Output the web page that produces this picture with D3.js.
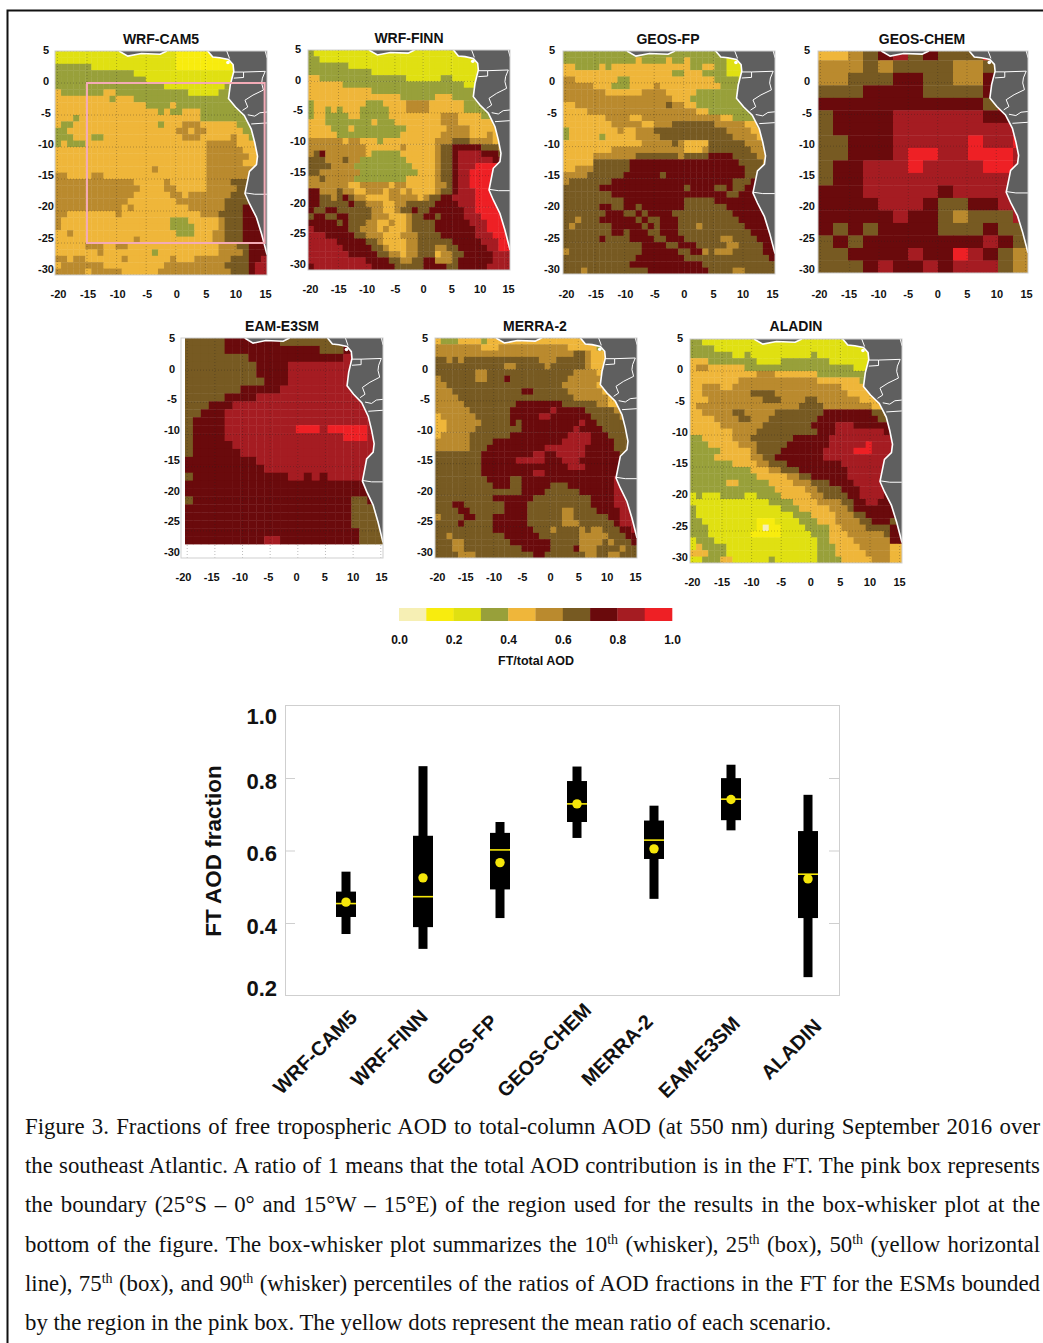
<!DOCTYPE html>
<html>
<head>
<meta charset="utf-8">
<script src="https://cdnjs.cloudflare.com/ajax/libs/d3/7.8.5/d3.min.js"></script>
<style>
  html, body { margin: 0; padding: 0; background: #fff; }
  svg { display: block; }
  text { font-family: "Liberation Sans", Arial, sans-serif; }
</style>
</head>
<body>
<div id="chart"></div>
<script>
// bins of FT/total AOD: digit n in the grids below = bin n (0.0-0.1 ... 0.9-1.0)
var binEdges = [0, 0.1, 0.2, 0.3, 0.4, 0.5, 0.6, 0.7, 0.8, 0.9, 1.0];
var binColors = ["#f6efb4", "#f8ec0e", "#e0e012", "#98a03a", "#efb63a", "#ba8a2e", "#775a22", "#6a0a0c", "#a51c22", "#ee2025"];
var legendTicks = [0, 0.2, 0.4, 0.6, 0.8, 1.0];

// grids, north to south, west to east
var wrfCam5 = [
"22222 22222 22222 22222 11111 11111 22222",
"22222 22222 22222 22222 11111 11111 11222",
"33333 32222 22222 22222 11111 11111 11222",
"33333 33333 33322 22222 22222 22222 22222",
"33333 33333 33333 22222 22222 22221 11222",
"33333 33333 33333 33322 22222 22233 33333",
"43333 33344 33333 33333 33222 22333 33333",
"44444 44443 44433 33333 33333 33333 33333",
"44444 44444 44444 33334 33333 33333 33333",
"44444 44444 44444 44343 34443 33333 33333",
"44434 44444 44444 44444 44443 33333 33333",
"43344 44444 44444 44344 45554 44444 33333",
"33444 44444 44444 44444 55455 44444 43333",
"33344 43344 44444 44444 45554 44445 44333",
"34333 44444 44444 44444 44444 55555 44433",
"44444 44444 44444 44444 44444 55555 54444",
"44444 44444 44444 44444 44444 55555 55444",
"44444 44444 44444 44444 44444 55555 54444",
"44444 44444 44444 45444 44444 55555 55544",
"55444 45544 44444 44444 44444 55555 55444",
"55555 55555 55544 44454 44444 55556 66777",
"55555 55555 55554 44455 44444 55555 66777",
"55555 55555 55544 44445 54555 55556 66777",
"55555 55555 55444 44444 55555 55566 66777",
"55555 55555 54544 44444 44555 55566 67777",
"55444 44444 54444 44444 44445 55666 67777",
"54444 44444 44444 44443 33444 44566 67777",
"54444 44444 44444 44443 33344 44566 67778",
"44544 44444 44444 44444 33344 45566 67778",
"44444 44444 44454 44444 44444 45566 67777",
"44444 55544 55444 44444 44444 44555 66777",
"44444 44544 44444 43444 44444 44555 56777",
"55455 44444 45444 44445 44455 55556 66778",
"45555 55544 44444 44455 55555 55566 66788",
"55555 45555 54444 44555 55555 55556 66788"
];
var wrfFinn = [
"32222 22222 22222 22222 22222 22222 22222",
"33222 22222 22222 22222 22222 22222 22222",
"33333 33222 22222 22222 22222 22222 22222",
"33333 33333 32222 22222 22222 22222 22222",
"44333 33333 33333 33222 22233 22222 22222",
"44444 43333 33333 33333 33333 33222 22222",
"44444 44444 43333 33333 33333 33332 22222",
"44444 44444 44444 43333 33444 33333 22222",
"34444 44444 33344 44555 54444 44333 32222",
"34434 34443 33334 44555 54444 44333 33222",
"34433 33443 33334 44444 44455 54444 33322",
"44433 33333 34333 44444 44455 54444 44333",
"44443 33433 33333 33444 44445 55544 44433",
"44444 33333 33333 34444 44455 55544 45444",
"55555 54554 44344 44444 44555 66655 55444",
"55555 55555 44444 45444 44566 77777 66655",
"56755 55555 43333 34444 44566 78888 77766",
"66655 56553 33333 33444 44566 78888 88777",
"66665 55533 33333 33344 44566 78889 99988",
"66555 55553 33333 33334 44566 78899 99999",
"55655 55533 33333 33444 44566 78899 99999",
"55555 55445 55554 55444 44556 78899 99999",
"77555 65544 55545 54544 44566 78889 99999",
"77665 67655 44445 55554 56677 88889 99999",
"77666 66766 55544 55666 66777 78889 99999",
"76677 66666 65544 56676 67777 77889 99999",
"67766 77666 65554 44566 77677 77888 99999",
"77777 67666 55445 44566 66777 77788 89999",
"87777 77665 55454 44566 66777 77778 89999",
"88877 77766 55544 45556 66677 77778 88999",
"88888 77777 66544 44556 66666 77777 88899",
"88888 87777 76654 44556 66556 67777 78899",
"88888 88777 77665 54556 66455 66777 77888",
"88888 88888 77776 65566 77555 67777 77888",
"78888 88888 87777 66666 77776 67777 78888"
];
var geosFp = [
"33333 33333 33333 33333 33333 33222 22222",
"33333 33333 33433 33433 43333 33222 22222",
"44333 34344 44444 44444 43344 33222 22222",
"44444 44444 44444 44433 44433 33222 22222",
"55444 44443 34444 44444 44444 33332 22222",
"55555 44433 34444 54444 44444 43333 22222",
"55555 55444 44455 55444 44333 33332 22222",
"55555 55555 55555 55544 43333 33333 22222",
"44555 55555 55555 55655 44333 33333 32222",
"44445 55555 55555 55555 55443 33333 33222",
"44444 44555 54455 55555 55555 54433 33322",
"44444 44455 55544 55566 66666 55555 44332",
"34444 44445 44555 66666 66666 66555 54443",
"34444 43444 44555 56666 66666 66655 55444",
"44444 44444 44455 55565 44446 66666 55544",
"44444 44455 55555 55555 44456 66666 65554",
"44444 55555 55666 66665 66667 77766 66554",
"44444 66666 67777 77777 77777 77776 66655",
"44555 66666 67777 77777 77777 77777 66655",
"55556 66666 77777 76777 77777 77777 66654",
"56666 66677 77777 77777 77777 77766 67766",
"66666 67777 77777 77777 67777 66766 77777",
"66666 66677 77777 77777 77777 77667 77777",
"66666 66666 77777 77777 66666 77777 77777",
"66666 67766 77677 77777 66666 66777 77777",
"66666 66777 66767 77766 66666 66677 77777",
"66566 67777 77676 67776 66666 66667 77777",
"65666 66677 77767 67776 66566 66666 77777",
"66666 66677 67776 67776 66666 66666 67777",
"66666 67666 67777 66777 66666 65566 66777",
"66666 66666 66677 77667 77666 66556 66677",
"56666 66666 66677 77776 67756 55566 66677",
"66666 66666 66777 77777 66666 66666 66667",
"66666 66666 67777 77777 77766 66666 66666",
"66656 66666 66667 77777 77776 66655 66666"
];
var geosChem = [
"44567867666 999",
"55565666655 666",
"55666776655 777",
"66677776666 777",
"77777777777 699",
"67777888888 777",
"67777888888 888",
"66777888889 889",
"66777899889 998",
"67788898888 998",
"67788888888 888",
"77788888788 888",
"77778887667 788",
"77777877656 668",
"76767777666 766",
"67677777777 876",
"66777787798 765",
"66678778788 865"
];
var eamE3sm = [
"66666 77777 77666 66666 66666",
"66666 77777 77777 77666 77777",
"66666 66677 77777 77777 88888",
"66666 66667 77788 88888 88888",
"66666 66667 77788 88888 88888",
"66666 66666 77788 88888 88888",
"66666 66777 77888 88888 88888",
"66666 77778 88888 88888 88888",
"66677 78888 88888 88888 88888",
"66777 88888 88888 88888 88888",
"67777 88888 88888 88888 88888",
"67777 88888 88889 99899 99988",
"67777 88888 88888 88888 99988",
"67777 78888 88888 88888 88888",
"67777 77888 88888 88888 88888",
"77777 77778 88888 88888 88888",
"77777 77777 88888 88888 88888",
"67777 77777 77788 78788 88888",
"77777 77777 77777 77777 77777",
"77777 77777 77777 77777 77777",
"67777 77777 77777 77777 76677",
"77777 77777 77777 77777 76666",
"77777 77777 77777 77777 76666",
"77777 77777 77777 77777 76666",
"77777 77777 77777 77777 77666",
"77777 77777 88777 77777 77666"
];
var merra2 = [
"43334 44434 44444 44444 44444 43333 33333",
"55555 55544 45555 55555 55544 44433 33333",
"55555 55555 55555 55555 55556 65444 33333",
"66565 66666 66666 66655 56666 65444 44333",
"66666 66666 66556 66665 66666 65444 44433",
"66666 66556 66666 66666 66665 55544 44443",
"56666 66556 66766 66666 66655 55554 44443",
"55666 66666 66666 66666 66555 55544 44444",
"55566 66666 66666 77666 66655 55554 44443",
"55556 66666 66666 66666 66665 55555 44444",
"55555 66666 66667 77777 77666 66655 44444",
"55555 56666 66677 77777 87777 76666 65444",
"45555 55666 66677 77788 77777 77666 66555",
"44555 55566 66676 77777 77777 87766 66655",
"44555 55666 66666 77777 77778 77776 66655",
"45555 56666 66677 77777 77788 88777 66665",
"55555 56666 77777 77777 77888 88777 76666",
"55555 56667 77777 77778 88888 87777 76665",
"66666 66677 77777 77887 78888 87777 77665",
"66666 66677 77778 88887 77888 77777 77766",
"66666 66677 77777 77777 77788 87777 77776",
"66666 66677 77777 77887 77777 77777 77777",
"66666 66667 77766 77777 77777 77777 78877",
"66666 66666 77766 77777 66677 77777 78887",
"66666 66666 66666 77776 66666 77777 78888",
"66666 66666 77777 77666 66666 66777 78888",
"66677 66666 66777 76666 66666 66777 78888",
"66667 76666 66777 76666 66556 66677 77888",
"56666 77666 77777 76666 66556 66666 77888",
"66667 66666 77777 76666 66555 66666 67888",
"66666 66666 77777 77666 56666 56556 66778",
"66566 66666 66777 77766 66666 55555 66677",
"66655 66666 66677 77777 66666 55556 56667",
"66655 66666 66666 77777 66667 55566 66566",
"66665 55666 66666 66776 66666 65566 55666"
];
var aladin = [
"33222 22222 22222 22222 22222 22222 22222",
"33332 22222 22222 22222 22222 22222 22222",
"33333 33223 22222 22222 32222 22222 22222",
"44433 33333 32222 33333 33322 22222 22222",
"45544 44443 33333 33333 33333 33222 22222",
"44444 44444 45554 44444 43333 33333 32222",
"44444 44455 55555 55555 54444 44433 33222",
"44555 44555 55555 55555 55555 44444 33222",
"44555 55555 66665 55555 55555 54444 43333",
"44455 55555 55666 55556 65555 55544 44433",
"45555 55555 55555 55566 66555 55555 44443",
"44555 55665 55556 66666 66777 77777 66544",
"44445 55566 55566 66666 67777 77777 76654",
"44444 55555 55666 66666 77778 88777 77766",
"44444 44555 56666 66666 67778 88888 88777",
"33444 44555 66666 66777 77788 88888 88888",
"33344 44455 56666 67777 77788 88889 88888",
"33333 44444 56666 77777 77888 88999 88888",
"33334 44444 55667 77777 77888 88888 88888",
"33333 33444 45566 67777 77777 88888 88877",
"33333 33333 44455 66677 77777 78888 88777",
"33333 33333 34444 45566 77777 78888 88777",
"33333 34433 33344 44555 66677 77888 88777",
"33333 33333 33334 44445 56666 77788 88777",
"23222 33332 23333 44444 55666 67788 88777",
"22222 22222 22233 33444 45555 66778 87777",
"32222 22222 22222 33344 44455 56777 77777",
"32222 22222 22222 22333 44445 55667 77776",
"33222 22222 21112 22233 34445 55566 77766",
"33322 22222 21011 22223 33344 55556 66677",
"33322 22222 11111 22222 33344 45555 55677",
"23332 22222 22222 22222 23344 44555 55577",
"24333 32222 22222 22222 23334 44455 55544",
"44433 32222 22222 22222 23334 44445 55544",
"22333 44222 22232 22222 23333 44444 55544"
];

var lonTicks = [-20, -15, -10, -5, 0, 5, 10, 15];
var latTicks = [5, 0, -5, -10, -15, -20, -25, -30];

// coast and borders, [lon, lat]
var coastAfrica = [[5.37,5],[6.25,4.05],[7.43,3.94],[8.9,3.67],[9.67,2.88],[9.79,1.82],[9.2,-0.3],[8.9,-2.42],[10.08,-3.75],[11.56,-5.07],[12.74,-7.2],[13.33,-9.3],[13.8,-11.44],[13.62,-12.76],[12.44,-13.82],[12.15,-15.15],[11.68,-17.27],[12.44,-18.86],[13.62,-21],[14.5,-23.63],[15.1,-25.75],[15.4,-26.8]];
var coastGuinea = [[-9.6,5],[-8.1,4.2],[-5.8,4.6],[-2.65,4.5],[-1.5,5]];
var borders = [
  [[9.79,1.71],[11.44,1.71],[11.44,0.86],[9.79,0.76]],
  [[11.44,1.71],[15.1,1.82],[14.62,0.76],[14.5,-0.04],[14.8,-1.1],[13.03,-1.89],[11.68,-2.69],[12.15,-3.75],[11.26,-4.28]],
  [[12.15,-4.97],[13.33,-5.18],[14.2,-4.65],[15.4,-4.54]],
  [[12.74,-6.4],[15.4,-6.24]],
  [[11.68,-17.16],[13.33,-17.38],[15.4,-17.38]],
  [[8.6,5],[9.08,3.83]],
  [[15.1,5],[15.4,3.94]]
];
var bioko = [8.8, 3.2];

// box-whisker plot
var models = ["WRF-CAM5", "WRF-FINN", "GEOS-FP", "GEOS-CHEM", "MERRA-2", "EAM-E3SM", "ALADIN"];
var p10 = [0.371, 0.330, 0.415, 0.636, 0.468, 0.657, 0.252];
var p25 = [0.418, 0.390, 0.494, 0.680, 0.578, 0.685, 0.415];
var p50 = [0.455, 0.474, 0.603, 0.730, 0.630, 0.743, 0.536];
var p75 = [0.488, 0.642, 0.650, 0.793, 0.684, 0.801, 0.655];
var p90 = [0.543, 0.834, 0.680, 0.833, 0.725, 0.838, 0.755];
var means = [0.459, 0.526, 0.568, 0.730, 0.606, 0.742, 0.523];
var fractionTicks = [0.2, 0.4, 0.6, 0.8, 1.0];

var captionLines = [
  "Figure 3. Fractions of free tropospheric AOD to total-column AOD (at 550 nm) during September 2016 over",
  "the southeast Atlantic. A ratio of 1 means that the total AOD contribution is in the FT. The pink box represents",
  "the boundary (25°S – 0° and 15°W – 15°E) of the region used for the results in the box-whisker plot at the",
  "bottom of the figure. The box-whisker plot summarizes the 10^th (whisker), 25^th (box), 50^th (yellow horizontal",
  "line), 75^th (box), and 90^th (whisker) percentiles of the ratios of AOD fractions in the FT for the ESMs bounded",
  "by the region in the pink box. The yellow dots represent the mean ratio of each scenario."
];

// map layout in pixels
var panels = [
  {name: "WRF-CAM5", grid: wrfCam5, x0: 55, x1: 267, y0: 51, y1: 275, geoY1: 275, gridY0: 51, gridY1: 275, titleX: 161, titleY: 44,
   tickX0: 58, tickX1: 265, tickY: 301, labelX: 46, labelY0: 50, labelY1: 269, pink: true},
  {name: "WRF-FINN", grid: wrfFinn, x0: 308, x1: 510, y0: 50, y1: 270, geoY1: 270, gridY0: 50, gridY1: 270, titleX: 409, titleY: 43,
   tickX0: 310, tickX1: 508, tickY: 296, labelX: 298, labelY0: 49, labelY1: 264},
  {name: "GEOS-FP", grid: geosFp, x0: 563, x1: 775, y0: 51, y1: 274, geoY1: 274, gridY0: 51, gridY1: 274, titleX: 668, titleY: 44,
   tickX0: 566, tickX1: 772, tickY: 301, labelX: 552, labelY0: 50, labelY1: 269},
  {name: "GEOS-CHEM", grid: geosChem, x0: 818, x1: 1028, y0: 51, y1: 273, geoY1: 273, gridY0: 47.8, gridY1: 273, titleX: 922, titleY: 44,
   tickX0: 819, tickX1: 1026, tickY: 301, labelX: 807, labelY0: 50, labelY1: 269},
  {name: "EAM-E3SM", grid: eamE3sm, x0: 185, x1: 383, y0: 338, y1: 558, geoY1: 563, gridY0: 338, gridY1: 544, frameX0: 181, titleX: 282, titleY: 331,
   tickX0: 183, tickX1: 381, tickY: 584, labelX: 172, labelY0: 338, labelY1: 552},
  {name: "MERRA-2", grid: merra2, x0: 435, x1: 637, y0: 338, y1: 558, geoY1: 558, gridY0: 338, gridY1: 558, titleX: 535, titleY: 331,
   tickX0: 437, tickX1: 635, tickY: 584, labelX: 425, labelY0: 338, labelY1: 552},
  {name: "ALADIN", grid: aladin, x0: 690, x1: 902, y0: 339, y1: 563, geoY1: 563, gridY0: 339, gridY1: 563, titleX: 796, titleY: 331,
   tickX0: 692, tickX1: 899, tickY: 589, labelX: 680, labelY0: 338, labelY1: 557}
];

var svg = d3.select("#chart").append("svg")
    .attr("width", 1043)
    .attr("height", 1343);

svg.append("rect").attr("width", 1043).attr("height", 1343).attr("fill", "#fff");

// page rule
svg.append("path")
    .attr("d", "M7.5,1343V10.5H1043")
    .attr("fill", "none")
    .attr("stroke", "#111")
    .attr("stroke-width", 2);

var line = d3.line();

panels.forEach(function (p, idx) {
  var rows = p.grid.map(function (r) { return r.replace(/ /g, ""); });
  var nCols = d3.max(rows, function (r) { return r.length; });

  var xCell = d3.scaleBand().domain(d3.range(nCols)).range([p.x0, p.x1]);
  var yCell = d3.scaleBand().domain(d3.range(rows.length)).range([p.gridY0, p.gridY1]);
  var lon = d3.scaleLinear().domain([-20.4, 15.4]).range([p.x0, p.x1]);
  var lat = d3.scaleLinear().domain([5, -30]).range([p.y0, p.geoY1]);
  var toXY = function (c) { return [lon(c[0]), lat(c[1])]; };

  var g = svg.append("g").attr("class", "map");

  svg.append("clipPath").attr("id", "clip" + idx)
    .append("rect")
    .attr("x", p.x0).attr("y", p.y0)
    .attr("width", p.x1 - p.x0).attr("height", p.y1 - p.y0);

  var map = g.append("g").attr("clip-path", "url(#clip" + idx + ")");

  rows.forEach(function (r, j) {
    map.append("g").selectAll("rect")
      .data(r.split(""))
      .enter().append("rect")
      .attr("x", function (d, i) { return xCell(i); })
      .attr("y", yCell(j))
      .attr("width", xCell.bandwidth() + 0.4)
      .attr("height", yCell.bandwidth() + 0.4)
      .attr("fill", function (d) { return binColors[+d]; });
  });

  // dotted lat/lon lines
  map.selectAll(".vgrid").data(lonTicks).enter().append("line")
    .attr("x1", lon).attr("x2", lon)
    .attr("y1", p.y0).attr("y2", p.y1)
    .attr("stroke", "#222").attr("stroke-opacity", 0.3).attr("stroke-dasharray", "1,2");
  map.selectAll(".hgrid").data(latTicks).enter().append("line")
    .attr("y1", lat).attr("y2", lat)
    .attr("x1", p.x0).attr("x2", p.x1)
    .attr("stroke", "#222").attr("stroke-opacity", 0.3).attr("stroke-dasharray", "1,2");

  // land
  var landRing = coastAfrica.concat([[15.4, -40], [20, -40], [20, 10], [5.37, 10]]);
  map.append("path").attr("d", line(landRing.map(toXY)) + "Z").attr("fill", "#5f5f5f");
  map.append("path").attr("d", line(coastGuinea.concat([[-1.5, 8], [-9.6, 8]]).map(toXY)) + "Z").attr("fill", "#5f5f5f");
  map.append("path").attr("d", line(coastAfrica.map(toXY)))
    .attr("fill", "none").attr("stroke", "#fff").attr("stroke-width", 1.6);
  map.append("path").attr("d", line(coastGuinea.map(toXY)))
    .attr("fill", "none").attr("stroke", "#fff").attr("stroke-width", 1.6);
  map.selectAll(".border").data(borders).enter().append("path")
    .attr("d", function (b) { return line(b.map(toXY)); })
    .attr("fill", "none").attr("stroke", "#fff").attr("stroke-width", 1);
  map.append("circle")
    .attr("cx", lon(bioko[0])).attr("cy", lat(bioko[1])).attr("r", 1.8)
    .attr("fill", "#fff");

  var fx0 = p.frameX0 || p.x0;
  g.append("rect")
    .attr("x", fx0).attr("y", p.y0)
    .attr("width", p.x1 - fx0).attr("height", p.y1 - p.y0)
    .attr("fill", "none").attr("stroke", "#cfcfcf");

  if (p.pink) {
    g.append("rect")
      .attr("x", lon(-15)).attr("y", lat(0))
      .attr("width", lon(15) - lon(-15)).attr("height", lat(-25) - lat(0))
      .attr("fill", "none").attr("stroke", "#f3abb6").attr("stroke-width", 2);
  }

  g.append("text")
    .attr("x", p.titleX).attr("y", p.titleY)
    .attr("text-anchor", "middle")
    .attr("font-size", 14).attr("font-weight", "bold").attr("fill", "#111")
    .text(p.name);

  var tickX = d3.scaleLinear().domain([-20, 15]).range([p.tickX0, p.tickX1]);
  var tickY = d3.scaleLinear().domain([5, -30]).range([p.labelY0, p.labelY1]);

  // plain hyphens on the labels, and lat labels centred on a column
  var ax = g.append("g").attr("transform", "translate(0," + (p.tickY - 11) + ")")
    .call(d3.axisBottom(tickX).tickValues(lonTicks).tickFormat(String).tickSize(0).tickPadding(0));
  var ay = g.append("g").attr("transform", "translate(" + p.labelX + ",0)")
    .call(d3.axisLeft(tickY).tickValues(latTicks).tickFormat(String).tickSize(0).tickPadding(0));
  ay.selectAll("text").attr("text-anchor", "middle");
  [ax, ay].forEach(function (a) {
    a.select(".domain").remove();
    a.selectAll("text")
      .attr("font-size", 11).attr("font-weight", "bold").attr("fill", "#111")
      .attr("font-family", "Liberation Sans");
  });
});

// colour bar
var legendX = d3.scaleLinear().domain([0, 1]).range([399, 672]);
svg.append("g").selectAll("rect")
  .data(binColors)
  .enter().append("rect")
  .attr("x", function (d, i) { return legendX(binEdges[i]); })
  .attr("y", 608)
  .attr("width", function (d, i) { return legendX(binEdges[i + 1]) - legendX(binEdges[i]) + 0.3; })
  .attr("height", 13)
  .attr("fill", function (d) { return d; });

var legendAxis = svg.append("g").attr("transform", "translate(0,635)")
  .call(d3.axisBottom(legendX).tickValues(legendTicks).tickFormat(d3.format(".1f")).tickSize(0).tickPadding(0));
legendAxis.select(".domain").remove();
legendAxis.selectAll("text")
  .attr("font-size", 12).attr("font-weight", "bold").attr("fill", "#111")
  .attr("font-family", "Liberation Sans");

svg.append("text")
  .attr("x", 536).attr("y", 665)
  .attr("text-anchor", "middle")
  .attr("font-size", 12.5).attr("font-weight", "bold").attr("fill", "#111")
  .text("FT/total AOD");

// box-whisker plot
var boxLeft = 285, boxRight = 839, boxTop = 706, boxBottom = 996;

var xBox = d3.scalePoint().domain(models).range([346, 808]);
var yBox = d3.scaleLinear().domain([0.2, 1.0]).range([boxBottom, boxTop]);

svg.append("rect")
  .attr("x", boxLeft + 0.5).attr("y", boxTop - 0.5)
  .attr("width", boxRight - boxLeft).attr("height", boxBottom - boxTop)
  .attr("fill", "none").attr("stroke", "#cfcfcf");

[[boxLeft, 1], [boxRight, -1]].forEach(function (s) {
  svg.selectAll(".none").data([0.4, 0.6, 0.8]).enter().append("line")
    .attr("x1", s[0]).attr("x2", s[0] + s[1] * 10)
    .attr("y1", yBox).attr("y2", yBox)
    .attr("stroke", "#cfcfcf");
});

// labels sit inside the ends of the axis in the original
var labelShift = {0.2: -8, 0.4: 2, 0.6: 2, 0.8: 2, 1.0: 10};
svg.append("g").selectAll("text")
  .data(fractionTicks)
  .enter().append("text")
  .attr("x", 277)
  .attr("y", function (d) { return yBox(d) + labelShift[d] + 8; })
  .attr("text-anchor", "end")
  .attr("font-size", 22).attr("font-weight", "bold").attr("fill", "#111")
  .text(d3.format(".1f"));

svg.append("text")
  .attr("transform", "translate(221,851) rotate(-90)")
  .attr("text-anchor", "middle")
  .attr("font-size", 22.5).attr("font-weight", "bold").attr("fill", "#111")
  .text("FT AOD fraction");

var boxes = svg.append("g").selectAll("g")
  .data(models)
  .enter().append("g");

boxes.append("rect")
  .attr("x", function (d) { return xBox(d) - 4.5; })
  .attr("width", 9)
  .attr("y", function (d, i) { return yBox(p90[i]); })
  .attr("height", function (d, i) { return yBox(p10[i]) - yBox(p90[i]); })
  .attr("fill", "#000");

boxes.append("rect")
  .attr("x", function (d) { return xBox(d) - 10; })
  .attr("width", 20)
  .attr("y", function (d, i) { return yBox(p75[i]); })
  .attr("height", function (d, i) { return yBox(p25[i]) - yBox(p75[i]); })
  .attr("fill", "#000");

boxes.append("line")
  .attr("x1", function (d) { return xBox(d) - 10; })
  .attr("x2", function (d) { return xBox(d) + 10; })
  .attr("y1", function (d, i) { return yBox(p50[i]); })
  .attr("y2", function (d, i) { return yBox(p50[i]); })
  .attr("stroke", "#f5e60a").attr("stroke-width", 1.6);

boxes.append("circle")
  .attr("cx", function (d) { return xBox(d); })
  .attr("cy", function (d, i) { return yBox(means[i]); })
  .attr("r", 4.7)
  .attr("fill", "#f5e60a");

// rotated model names, centres placed by eye
var modelLabelDx = [-29, -32, -36, -31, -35, -30, -15];
var modelLabelY = [1052, 1048, 1050, 1050, 1050, 1057, 1049];
svg.append("g").selectAll("text")
  .data(models)
  .enter().append("text")
  .attr("transform", function (d, i) {
    return "translate(" + (xBox(d) + modelLabelDx[i] + 3) + "," + (modelLabelY[i] + 5) + ") rotate(-45)";
  })
  .attr("text-anchor", "middle")
  .attr("font-size", 20).attr("font-weight", "bold").attr("fill", "#111")
  .text(function (d) { return d; });

// caption, justified by hand through word spacing
var captionLeft = 25, captionWidth = 1015, captionFirst = 1134, captionStep = 39.2;
captionLines.forEach(function (t, i) {
  var el = svg.append("text")
    .attr("x", captionLeft)
    .attr("y", captionFirst + i * captionStep)
    .attr("font-size", 22.8)
    .attr("fill", "#111")
    .style("font-family", "'Liberation Serif', 'Times New Roman', serif")
    .attr("xml:space", "preserve");
  t.split("^th").forEach(function (part, k) {
    if (k > 0) {
      el.append("tspan").attr("dy", -8).attr("font-size", 14).text("th");
      el.append("tspan").attr("dy", 8).text(part);
    } else {
      el.append("tspan").text(part);
    }
  });
  if (i < captionLines.length - 1) {
    var gap = captionWidth - el.node().getComputedTextLength();
    var spaces = t.split(" ").length - 1;
    el.style("word-spacing", (gap / spaces) + "px");
  }
});
</script>
</body>
</html>
